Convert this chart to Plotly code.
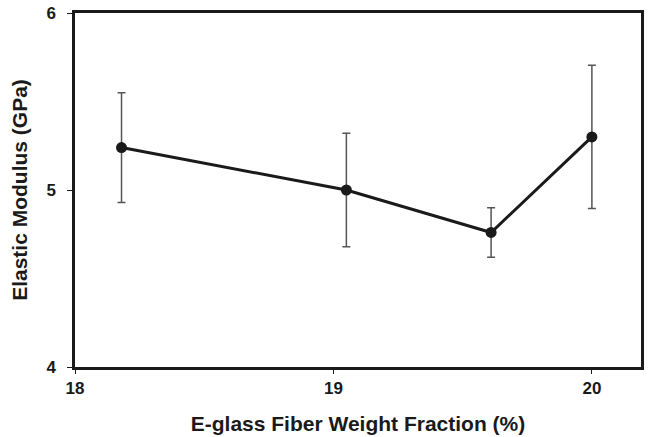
import plotly.graph_objects as go

fiber_fraction = [18.18, 19.05, 19.61, 20.0]
elastic_modulus = [5.24, 5.00, 4.76, 5.30]
modulus_error = [0.31, 0.32, 0.14, 0.405]

x_ticks = [18, 19, 20]
y_ticks = [4, 5, 6]

fig = go.Figure()
fig.add_trace(go.Scatter(
    x=fiber_fraction, y=elastic_modulus,
    mode="lines+markers",
    line=dict(color="#1a1a1a", width=3),
    marker=dict(color="#1a1a1a", size=11),
    error_y=dict(type="data", array=modulus_error, visible=True,
                 color="#555555", thickness=1.5, width=4),
    showlegend=False,
))

font_family = "Liberation Sans, Arial, sans-serif"

fig.update_layout(
    width=648, height=437,
    margin=dict(l=75, r=4, t=13, b=70),
    paper_bgcolor="white", plot_bgcolor="white",
    font=dict(family=font_family, color="#1a1a1a"),
)
fig.update_xaxes(
    range=[18, 20.19], tickvals=x_ticks, ticktext=[f"<b>{v}</b>" for v in x_ticks],
    showgrid=False, zeroline=False,
    showline=True, linecolor="#1a1a1a", linewidth=2.5, mirror=True,
    ticks="outside", ticklen=4, tickwidth=1, tickcolor="#1a1a1a",
    tickfont=dict(size=17, family=font_family),
    title=dict(text="<b>E-glass Fiber Weight Fraction (%)</b>",
               font=dict(size=21, family=font_family), standoff=20),
)
fig.update_yaxes(
    range=[4, 6], tickvals=y_ticks, ticktext=[f"<b>{v}</b>" for v in y_ticks],
    showgrid=False, zeroline=False,
    showline=True, linecolor="#1a1a1a", linewidth=2.5, mirror=True,
    ticks="outside", ticklen=5, tickwidth=1, tickcolor="#1a1a1a",
    ticklabelstandoff=8,
    tickfont=dict(size=17, family=font_family),
    title=dict(text="<b>Elastic Modulus (GPa)</b>",
               font=dict(size=21, family=font_family), standoff=14),
)

fig.write_html("out.html")
